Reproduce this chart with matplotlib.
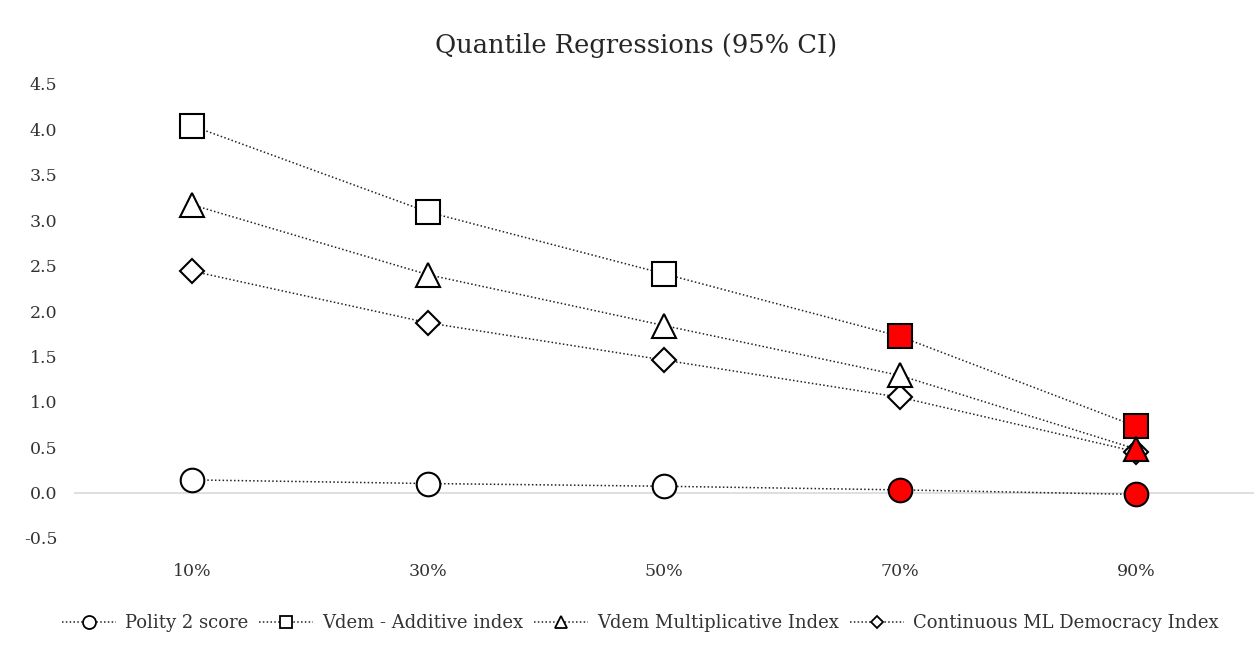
import matplotlib
matplotlib.use("Agg")
import matplotlib.pyplot as plt
from matplotlib.lines import Line2D

quantiles = ["10%", "30%", "50%", "70%", "90%"]
polity = [0.14, 0.10, 0.07, 0.03, -0.02]
additive = [4.04, 3.09, 2.41, 1.72, 0.73]
multiplicative = [3.17, 2.40, 1.84, 1.29, 0.48]
continuous = [2.44, 1.87, 1.46, 1.05, 0.45]
polity_sig = [False, False, False, True, True]
additive_sig = [False, False, False, True, True]
multiplicative_sig = [False, False, False, False, True]
continuous_sig = [False, False, False, False, False]
labels = ["Polity 2 score", "Vdem - Additive index", "Vdem Multiplicative Index", "Continuous ML Democracy Index"]

plt.rcParams['font.family'] = ['DejaVu Serif']

fig = plt.figure(figsize=(12.6, 6.46), dpi=100)
ax = fig.add_axes([74/1260, 108/646, (1254-74)/1260, (538-84)/646])

x = list(range(len(quantiles)))
series = [
    (polity, polity_sig, 'o', 17),
    (additive, additive_sig, 's', 17),
    (multiplicative, multiplicative_sig, '^', 17),
    (continuous, continuous_sig, 'D', 12),
]
order = [0, 1, 3, 2]
for z, i in enumerate(order):
    vals, sig, m, ms = series[i]
    fcs = ['red' if s else 'white' for s in sig]
    ax.plot(x, vals, linestyle=(0, (1, 1.5)), color='#222222', linewidth=1.1, zorder=3)
    for xi, v, fc in zip(x, vals, fcs):
        ax.plot([xi], [v], marker=m, markersize=ms, markerfacecolor=fc,
                markeredgecolor='black', markeredgewidth=1.5, linestyle='none', zorder=4 + z)
handles = []
for vals, sig, m, ms in series:
    handles.append(Line2D([0], [0], linestyle=(0, (1, 1.5)), color='#222222', linewidth=1.1,
                          marker=m, markersize=ms * 0.55, markerfacecolor='white',
                          markeredgecolor='black', markeredgewidth=1.3))

ax.axhline(0, color='#d9d9d9', linewidth=1.2, zorder=1)
ax.set_xlim(-0.5, len(quantiles) - 0.5)
ax.set_ylim(-0.5, 4.5)
ax.set_yticks([-0.5, 0.0, 0.5, 1.0, 1.5, 2.0, 2.5, 3.0, 3.5, 4.0, 4.5])
ax.set_yticklabels(["-0.5", "0.0", "0.5", "1.0", "1.5", "2.0", "2.5", "3.0", "3.5", "4.0", "4.5"])
ax.set_xticks(x)
ax.set_xticklabels(quantiles)
ax.tick_params(axis='both', length=0, labelsize=12.5, colors='#333333')
ax.tick_params(axis='x', pad=18)
ax.tick_params(axis='y', pad=12)
for sp in ax.spines.values():
    sp.set_visible(False)

fig.text(0.505, 0.93, "Quantile Regressions (95% CI)", ha='center', va='center', fontsize=18.5, color='#262626')

fig.legend(handles, labels, loc='center', bbox_to_anchor=(0.508, 0.035), ncol=4, frameon=False,
           fontsize=13, handlelength=3.0, columnspacing=0.6, handletextpad=0.5, labelcolor='#333333')

fig.savefig("out.png", dpi=100)
